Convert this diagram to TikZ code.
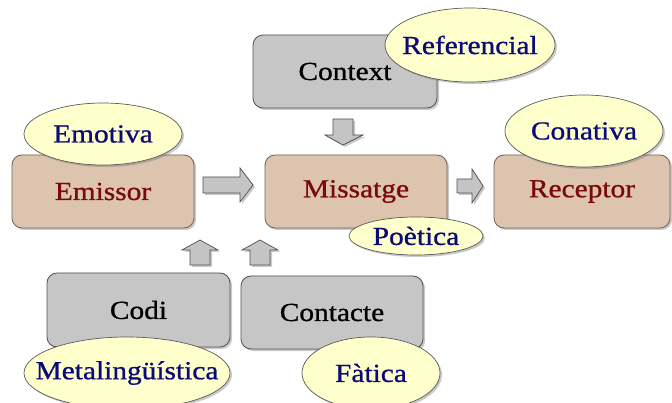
\documentclass[tikz,border=0pt]{standalone}
\usepackage{fontspec}
\setmainfont{Liberation Serif}[FakeStretch=1.13,FakeBold=0.9]
\usetikzlibrary{shapes.geometric,shadows}
\definecolor{tanfill}{HTML}{DDC4AE}
\definecolor{tanline}{HTML}{6E625A}
\definecolor{grayfill}{HTML}{C6C6C6}
\definecolor{grayline}{HTML}{505050}
\definecolor{ellfill}{HTML}{FFFFCC}
\definecolor{ellline}{HTML}{5A5A5A}
\definecolor{navytext}{HTML}{0A0A78}
\definecolor{maroontext}{HTML}{7A0A0A}
\definecolor{arrfill}{HTML}{C4C4C4}
\tikzset{
  myshadow/.style={drop shadow={shadow xshift=2pt,shadow yshift=-2pt,opacity=0.35,fill=black!60}},
  labelfont/.style={font=\fontsize{26}{30}\selectfont},
  tanbox/.style={rectangle,rounded corners=10pt,draw=tanline,line width=0.8pt,fill=tanfill,
    text=maroontext,labelfont,myshadow},
  graybox/.style={rectangle,rounded corners=10pt,draw=grayline,line width=0.8pt,fill=grayfill,
    text=black,labelfont,myshadow},
  funcell/.style={ellipse,inner sep=0pt,draw=ellline,line width=0.7pt,fill=ellfill,myshadow},
  functext/.style={inner sep=0pt,text=navytext,labelfont},
  blockarrow/.style={draw=grayline,line width=0.7pt,fill=arrfill,line join=miter,myshadow}
}
\begin{document}
\begin{tikzpicture}[x=1pt,y=-1pt]
\clip (0,0) rectangle (672,403);
\fill[white] (0,0) rectangle (672,403);
% boxes
\node[tanbox,minimum width=182pt,minimum height=73pt] (emissor) at (103,191.5) {Emissor};
\node[tanbox,minimum width=182pt,minimum height=73pt] (missatge) at (356,191.5) {Missatge};
\node[tanbox,minimum width=176pt,minimum height=73pt] (receptor) at (582,191.5) {Receptor};
\node[graybox,minimum width=184pt,minimum height=73pt] (context) at (345,71.5) {Context};
\node[graybox,minimum width=183pt,minimum height=74pt] (codi) at (138.5,310) {Codi};
\node[graybox,minimum width=182pt,minimum height=73pt] (contacte) at (332,312.5) {Contacte};
% block arrows
\draw[blockarrow] (203,177) -- (240,177) -- (240,168) -- (253,185) -- (240,202) -- (240,193) -- (203,193) -- cycle;
\draw[blockarrow] (457,179) -- (472,179) -- (472,169) -- (483,186) -- (472,203) -- (472,193) -- (457,193) -- cycle;
\draw[blockarrow] (333,119) -- (353,119) -- (353,135) -- (363,135) -- (343,145) -- (325,135) -- (333,135) -- cycle;
\draw[blockarrow] (190,265) -- (190,250) -- (182,250) -- (200,240) -- (218,250) -- (210,250) -- (210,265) -- cycle;
\draw[blockarrow] (250,265) -- (250,250) -- (242,250) -- (260,240) -- (278,250) -- (270,250) -- (270,265) -- cycle;
% function ellipses
\node[funcell,minimum width=158pt,minimum height=62pt] (emotiva) at (103,134) {};
\node[funcell,minimum width=158pt,minimum height=72pt] (conativa) at (584,131) {};
\node[funcell,minimum width=170pt,minimum height=74pt] (referencial) at (470,45) {};
\node[funcell,minimum width=134pt,minimum height=38pt] (poetica) at (416,236) {};
\node[funcell,minimum width=206pt,minimum height=72pt] (metaling) at (127,373) {};
\node[funcell,minimum width=138pt,minimum height=72pt] (fatica) at (371,373) {};
\node[functext] (emotivaT) at (emotiva) {Emotiva};
\node[functext] (conativaT) at (conativa) {Conativa};
\node[functext] (referencialT) at (referencial) {Referencial};
\node[functext] (poeticaT) at (poetica) {Poètica};
\node[functext] (metalingT) at (metaling) {Metalingüística};
\node[functext] (faticaT) at (fatica) {Fàtica};
\end{tikzpicture}
\end{document}
